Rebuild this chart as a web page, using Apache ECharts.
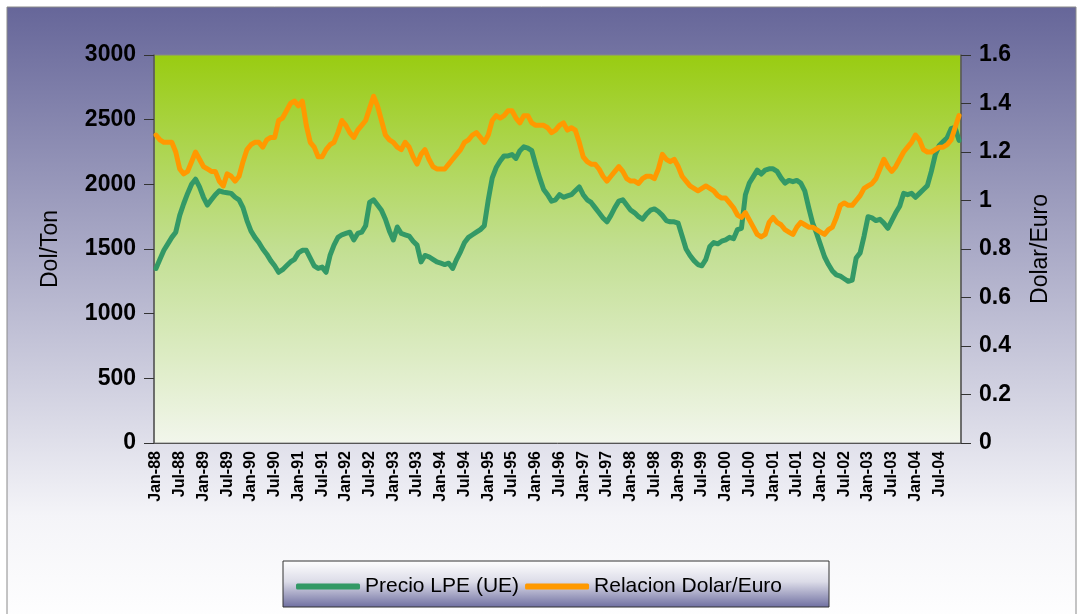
<!DOCTYPE html>
<html>
<head>
<meta charset="utf-8">
<title>Precio LPE vs Dolar/Euro</title>
<script src="https://cdn.jsdelivr.net/npm/echarts@6/dist/echarts.min.js"></script>
<style>
  html, body { margin: 0; padding: 0; background: #ffffff; }
  #chart { width: 1078px; height: 614px; }
</style>
</head>
<body>
<div id="chart"></div>
<script>
// meses Jan-88 .. Dec-04
const monthNames = ['Jan', 'Feb', 'Mar', 'Apr', 'May', 'Jun', 'Jul', 'Aug', 'Sep', 'Oct', 'Nov', 'Dec']
const years = ['88', '89', '90', '91', '92', '93', '94', '95', '96', '97', '98', '99', '00', '01', '02', '03', '04']
const categories = []
years.forEach(y => monthNames.forEach(m => categories.push(m + '-' + y)))

// Precio LPE (UE), Dol/Ton
const precioLPE = [
  1350, 1420, 1490, 1540, 1590, 1630, 1760, 1850, 1930, 2000, 2040, 1980,
  1900, 1840, 1880, 1920, 1950, 1940, 1935, 1930, 1900, 1880, 1820, 1720,
  1640, 1590, 1550, 1500, 1460, 1410, 1370, 1320, 1340, 1370, 1400, 1420,
  1470, 1490, 1490, 1430, 1370, 1350, 1360, 1320, 1450, 1530, 1590, 1610,
  1620, 1630, 1570, 1620, 1630, 1680, 1860, 1880, 1840, 1800, 1730, 1640,
  1570, 1670, 1620, 1610, 1600, 1560, 1530, 1400, 1450, 1440, 1420, 1400,
  1390, 1380, 1390, 1350, 1420, 1480, 1550, 1590, 1610, 1630, 1650, 1680,
  1880, 2050, 2130, 2180, 2220, 2220, 2230, 2200, 2260, 2290, 2280, 2260,
  2150, 2050, 1960, 1920, 1870, 1880, 1920, 1900, 1910, 1920, 1950, 1980,
  1920, 1880, 1860, 1820, 1780, 1740, 1710, 1760, 1820, 1870, 1880, 1840,
  1800, 1780, 1750, 1730, 1770, 1800, 1810, 1790, 1760, 1720, 1710, 1710,
  1700, 1600, 1500, 1450, 1410, 1380, 1370, 1420, 1520, 1550, 1540, 1560,
  1570, 1590, 1580, 1650, 1660, 1920, 2010, 2060, 2110, 2080, 2110, 2120,
  2120, 2100, 2050, 2010, 2030, 2020, 2030, 2010, 1950, 1820, 1700, 1620,
  1530, 1440, 1380, 1330, 1300, 1290, 1270, 1250, 1260, 1430, 1470, 1600,
  1750, 1740, 1720, 1730, 1700, 1660, 1720, 1780, 1830, 1930, 1920, 1930,
  1900, 1930, 1960, 1990, 2100, 2230, 2300, 2330, 2360, 2430, 2440, 2340
]

// Relacion Dolar/Euro
const dolarEuro = [
  1.27, 1.25, 1.24, 1.24, 1.24, 1.20, 1.13, 1.11, 1.12, 1.16, 1.20, 1.17,
  1.14, 1.13, 1.12, 1.12, 1.08, 1.06, 1.11, 1.10, 1.08, 1.10, 1.16, 1.21,
  1.23, 1.24, 1.24, 1.22, 1.25, 1.26, 1.26, 1.33, 1.34, 1.37, 1.40, 1.41,
  1.39, 1.41, 1.31, 1.24, 1.22, 1.18, 1.18, 1.21, 1.23, 1.24, 1.28, 1.33,
  1.31, 1.28, 1.26, 1.29, 1.31, 1.33, 1.38, 1.43, 1.39, 1.33, 1.27, 1.25,
  1.24, 1.22, 1.21, 1.24, 1.22, 1.18, 1.15, 1.19, 1.21, 1.17, 1.14, 1.13,
  1.13, 1.13, 1.15, 1.17, 1.19, 1.21, 1.24, 1.25, 1.27, 1.28, 1.26, 1.24,
  1.27, 1.33, 1.35, 1.34, 1.35, 1.37, 1.37, 1.34, 1.32, 1.35, 1.35, 1.32,
  1.31, 1.31, 1.31, 1.30, 1.28, 1.29, 1.31, 1.32, 1.29, 1.30, 1.29, 1.24,
  1.18, 1.16, 1.15, 1.15, 1.13, 1.10, 1.08, 1.10, 1.12, 1.14, 1.12, 1.09,
  1.08, 1.08, 1.07, 1.09, 1.10, 1.10, 1.09, 1.13, 1.19, 1.17, 1.16, 1.17,
  1.14, 1.10, 1.08, 1.06, 1.05, 1.04, 1.05, 1.06, 1.05, 1.04, 1.02, 1.01,
  1.01, 0.99, 0.97, 0.94, 0.93, 0.95, 0.92, 0.89, 0.86, 0.85, 0.86, 0.91,
  0.93, 0.91, 0.90, 0.88, 0.87, 0.86, 0.89, 0.91, 0.90, 0.89, 0.89, 0.88,
  0.87, 0.86, 0.88, 0.89, 0.93, 0.98, 0.99, 0.98, 0.98, 1.00, 1.02, 1.05,
  1.06, 1.07, 1.09, 1.13, 1.17, 1.14, 1.12, 1.14, 1.17, 1.20, 1.22, 1.24,
  1.27, 1.25, 1.21, 1.20, 1.20, 1.21, 1.22, 1.22, 1.23, 1.25, 1.30, 1.35
]

const font = '"Liberation Sans", Arial, sans-serif'

const chart = echarts.init(document.getElementById('chart'))

const option = {
  animation: false,
  graphic: [
    {
      type: 'rect', z: -10, silent: true,
      shape: { x: 7, y: 7, width: 1069, height: 620 },
      style: {
        fill: new echarts.graphic.LinearGradient(0, 0, 0, 1, [
          { offset: 0, color: '#666699' },
          { offset: 0.82, color: '#f4f4f8' },
          { offset: 1, color: '#ffffff' }
        ]),
        stroke: '#8a8a8a', lineWidth: 1
      }
    },
    {
      type: 'rect', z: -5, silent: true,
      shape: { x: 283, y: 561, width: 546, height: 46 },
      style: {
        fill: new echarts.graphic.LinearGradient(0, 0, 0, 1, [
          { offset: 0, color: '#ffffff' },
          { offset: 0.45, color: '#dcdce8' },
          { offset: 1, color: '#6e6ea0' }
        ]),
        stroke: '#333333', lineWidth: 1
      }
    }
  ],
  grid: {
    left: 154, right: 117, top: 55, bottom: 171,
    show: true,
    borderColor: '#888888',
    borderWidth: 1,
    backgroundColor: new echarts.graphic.LinearGradient(0, 0, 0, 1, [
      { offset: 0, color: '#99cc11' },
      { offset: 0.5, color: '#c2df92' },
      { offset: 1, color: '#f2f6ec' }
    ])
  },
  legend: {
    left: 'center',
    top: 571,
    itemWidth: 64,
    itemHeight: 6,
    itemGap: 6,
    icon: 'roundRect',
    textStyle: { fontFamily: font, fontSize: 21, color: '#000' },
    data: ['Precio LPE (UE)', 'Relacion Dolar/Euro']
  },
  xAxis: {
    type: 'category',
    data: categories,
    axisLine: { lineStyle: { color: '#555', width: 1 } },
    axisTick: { interval: 0, length: 4, lineStyle: { color: '#333' } },
    axisLabel: {
      interval: 5,
      rotate: 90,
      margin: 8,
      fontFamily: font,
      fontSize: 16,
      fontWeight: 'bold',
      color: '#000'
    },
    splitLine: { show: false }
  },
  yAxis: [
    {
      type: 'value',
      min: 0, max: 3000, interval: 500,
      name: 'Dol/Ton',
      nameLocation: 'middle',
      nameGap: 92,
      nameTextStyle: { fontFamily: font, fontSize: 23, color: '#000' },
      axisLine: { show: true, lineStyle: { color: '#555', width: 1.5 } },
      axisTick: { show: true, length: 10, lineStyle: { color: '#333' } },
      axisLabel: {
        margin: 18, fontFamily: font, fontSize: 23, fontWeight: 'bold', color: '#000',
        formatter: v => String(v)
      },
      splitLine: { show: false }
    },
    {
      type: 'value',
      min: 0, max: 1.6, interval: 0.2,
      name: 'Dolar/Euro',
      nameLocation: 'middle',
      nameGap: 68,
      nameTextStyle: { fontFamily: font, fontSize: 23, color: '#000' },
      axisLine: { show: true, lineStyle: { color: '#555', width: 1.5 } },
      axisTick: { show: true, length: 10, lineStyle: { color: '#333' } },
      axisLabel: {
        margin: 18, fontFamily: font, fontSize: 23, fontWeight: 'bold', color: '#000',
        formatter: v => String(Math.round(v * 10) / 10)
      },
      splitLine: { show: false }
    }
  ],
  series: [
    {
      name: 'Precio LPE (UE)',
      type: 'line',
      yAxisIndex: 0,
      data: precioLPE,
      showSymbol: false,
      symbol: 'none',
      color: '#339966',
      lineStyle: { width: 5, color: '#339966', cap: 'round', join: 'round' },
      z: 2
    },
    {
      name: 'Relacion Dolar/Euro',
      type: 'line',
      yAxisIndex: 1,
      data: dolarEuro,
      showSymbol: false,
      symbol: 'none',
      color: '#ff9900',
      lineStyle: { width: 5, color: '#ff9900', cap: 'round', join: 'round' },
      z: 3
    }
  ]
}

chart.setOption(option)
</script>
</body>
</html>
